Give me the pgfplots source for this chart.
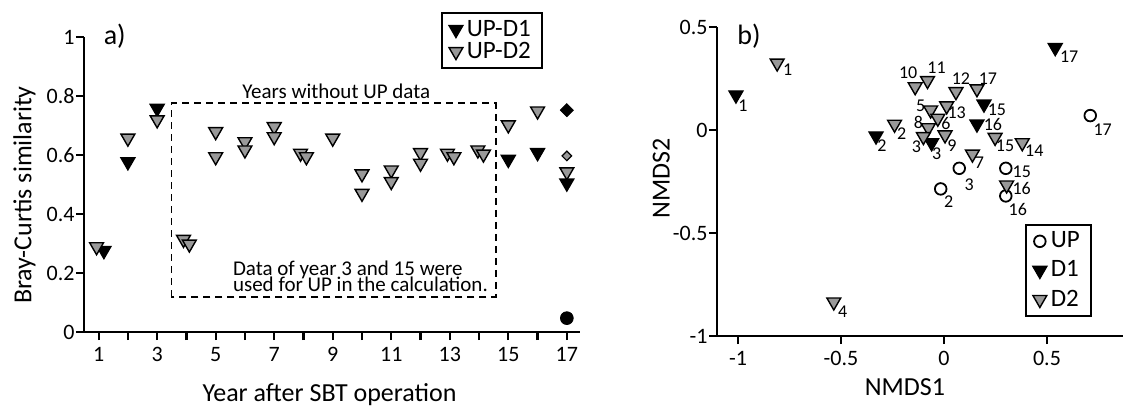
\documentclass[border=0pt]{standalone}
\usepackage{fontspec}
\setmainfont{Carlito}
\usepackage{pgfplots}
\usepackage{pgfplotstable}
\pgfplotsset{compat=1.18}
\definecolor{dgray}{RGB}{153,153,153}

% panel a): Bray-Curtis similarity
\pgfplotstableread{
x y
1.18 0.276
2 0.577
3 0.758
15 0.585
16 0.608
17 0.505
}\aDone
\pgfplotstableread{
x y
0.93 0.289
2 0.657
3 0.719
15 0.702
16 0.749
17 0.543
}\aDtwo
\pgfplotstableread{
x y
3.9 0.314
4.1 0.298
5 0.679
5 0.594
6 0.645
6 0.617
7 0.696
7 0.662
7.9 0.606
8.1 0.594
9 0.657
10 0.536
10 0.470
11 0.549
11 0.510
12 0.608
12 0.572
12.92 0.606
13.14 0.594
13.96 0.617
14.15 0.603
}\aBox

% panel b): NMDS
\pgfplotstableread{
x y lab dx dy
0.71 0.07 17 6.2 -7.2
0.074 -0.186 3 5 -8
0.30 -0.186 15 8 -1.5
0.30 -0.32 16 6 -7
-0.016 -0.286 2 4 -6.5
}\bUP
\pgfplotstableread{
x y lab dx dy
-1.01 0.17 1 3.5 -5.5
0.54 0.40 17 7 -4.8
0.194 0.126 15 6.5 -3
0.16 0.029 16 8 0
-0.33 -0.029 2 3 -5
-0.06 -0.062 3 2.5 -5.5
}\bDone
\pgfplotstableread{
x y lab dx dy
-0.81 0.325 1 5.3 -3.5
-0.535 -0.835 4 4.5 -4.8
-0.14 0.21 10 -3.5 7
-0.08 0.24 11 4.5 6.5
0.058 0.186 12 2.5 6.5
0.16 0.20 17 5.5 5
-0.065 0.097 5 -5 2
0.013 0.117 13 5 -3.5
-0.03 0.057 6 4 -2.5
-0.076 0.011 8 -5 2.5
-0.24 0.028 2 3.5 -4.5
-0.10 -0.032 3 -3.5 -5
0.005 -0.024 9 3.5 -5.5
0.248 -0.036 15 5 -4
0.38 -0.062 14 6 -4
0.138 -0.117 7 3.5 -4.5
0.304 -0.267 16 7.5 -1.5
}\bDtwo

\pgfplotsset{
  panel/.style={
    scale only axis,
    axis x line*=bottom, axis y line*=left,
    axis line style={line width=1.1pt},
    every tick/.style={line width=1.1pt, black},
    tick align=outside,
    major tick length=4pt, minor tick length=4pt,
    tick label style={font=\fontsize{11}{13}\selectfont},
    yticklabel style={xshift=2.8pt},
    label style={font=\fontsize{13}{15}\selectfont},
    /pgf/number format/assume math mode=true,
    clip=false,
    legend cell align=left,
    legend style={draw=black, line width=1pt, font=\fontsize{12.5}{13}\selectfont,
      inner xsep=3.5pt, inner ysep=1.5pt},
    legend image code/.code={\draw[mark repeat=2,mark phase=2,##1] plot coordinates {(0cm,0cm) (0.18cm,0cm) (0.36cm,0cm)};},
  },
  tblack/.style={only marks, mark=triangle*, mark size=4pt,
    mark options={rotate=180, draw=black, fill=black, line width=0.7pt}},
  tgray/.style={only marks, mark=triangle*, mark size=4pt,
    mark options={rotate=180, draw=black, fill=dgray, line width=0.7pt}},
  ptlab/.style={nodes near coords, point meta=explicit symbolic,
    visualization depends on={\thisrow{dx}\as\dx},
    visualization depends on={\thisrow{dy}\as\dy},
    every node near coord/.append style={anchor=center, xshift=\dx pt, yshift=\dy pt,
      font=\fontsize{9}{10}\selectfont, inner sep=0pt, text=black}},
}

\begin{document}
\begin{tikzpicture}
\begin{axis}[panel,
  at={(42pt,38pt)}, anchor=south west,
  width=248pt, height=147.5pt,
  xmin=0.5, xmax=17.45, ymin=0, ymax=1,
  xtick={1,3,...,17}, minor xtick={2,4,...,16},
  ytick={0,0.2,0.4,0.6,0.8,1},
  xlabel={Year after SBT operation},
  ylabel={Bray-Curtis similarity},
  xlabel style={at={(axis description cs:0.495,-0.234)}, anchor=base},
  ylabel style={at={(axis description cs:-0.12,0.464)}, anchor=center},
  legend style={at={(0.925,1.085)}, anchor=north east, row sep=-2.5pt},
]
\addplot[tblack] table {\aDone};
\addlegendentry{UP-D1}
\addplot[tgray] table {\aDtwo};
\addlegendentry{UP-D2}
\addplot[tgray, forget plot] table {\aBox};
\addplot[only marks, mark=square*, mark size=2.3pt, mark options={rotate=45, fill=black, draw=black}, forget plot]
  coordinates {(17,0.752)};
\addplot[only marks, mark=square*, mark size=1.7pt, mark options={rotate=45, fill=dgray, draw=black, line width=0.6pt}, forget plot]
  coordinates {(17,0.597)};
\addplot[only marks, mark=*, mark size=3.2pt, mark options={fill=black, draw=black}, forget plot]
  coordinates {(17,0.047)};
\draw[line width=0.9pt, dash pattern=on 3.5pt off 2.5pt] (axis cs:3.49,0.120) rectangle (axis cs:14.57,0.775);
\node[anchor=base, font=\fontsize{10.5}{11}\selectfont] at (axis cs:9.12,0.790) {Years without UP data};
\node[anchor=base west, font=\fontsize{10.5}{11}\selectfont, inner sep=0pt] at (axis cs:5.58,0.191) {Data of year 3 and 15 were};
\node[anchor=base west, font=\fontsize{10.5}{11}\selectfont, inner sep=0pt] at (axis cs:5.58,0.137) {used for UP in the calculation.};
\node[font=\fontsize{14}{15}\selectfont] at (axis cs:1.55,1.003) {a)};
\end{axis}

\begin{axis}[panel,
  at={(358.5pt,36pt)}, anchor=south west,
  width=203pt, height=154.5pt,
  xmin=-1.102, xmax=0.869, ymin=-1, ymax=0.5,
  xtick={-1,-0.5,0,0.5}, ytick={-1,-0.5,0,0.5},
  xlabel={NMDS1}, ylabel={NMDS2},
  xlabel style={at={(axis description cs:0.463,-0.165)}, anchor=center},
  ylabel style={at={(axis description cs:-0.137,0.511)}, anchor=center},
  legend style={at={(0.923,0.061)}, anchor=south east, row sep=1pt},
]
\addplot[only marks, mark=o, mark size=2.9pt, mark options={draw=black, fill=white, line width=0.9pt}, ptlab] table[meta=lab] {\bUP};
\addlegendentry{UP}
\addplot[tblack, ptlab] table[meta=lab] {\bDone};
\addlegendentry{D1}
\addplot[tgray, ptlab] table[meta=lab] {\bDtwo};
\addlegendentry{D2}
\node[font=\fontsize{14}{15}\selectfont] at (axis cs:-0.947,0.456) {b)};
\end{axis}
\pgfresetboundingbox
\useasboundingbox (0,0) rectangle (562pt,204pt);
\end{tikzpicture}
\end{document}
